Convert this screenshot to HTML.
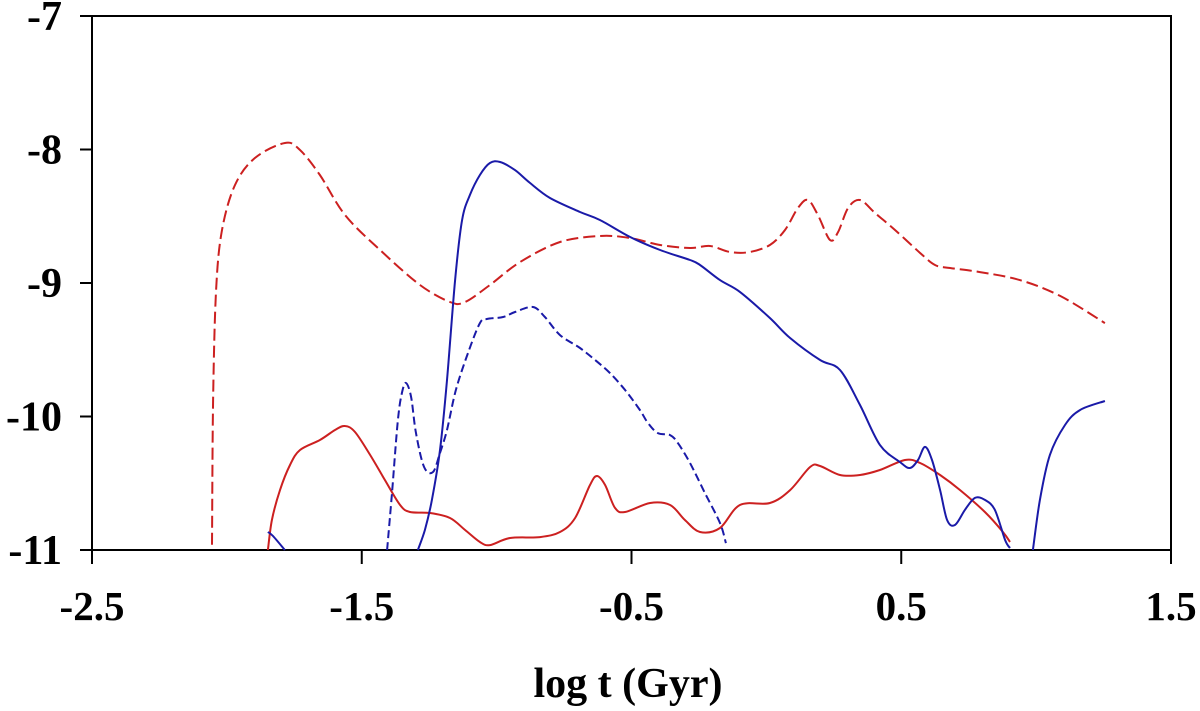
<!DOCTYPE html>
<html><head><meta charset="utf-8"><style>
html,body{margin:0;padding:0;background:#fff;}
svg text{font-family:"Liberation Serif",serif;font-weight:bold;fill:#000;}
</style></head><body>
<svg id="chart" width="1200" height="706" viewBox="0 0 1200 706" xmlns="http://www.w3.org/2000/svg">
<g id="axes"></g>
<g id="series"></g>
<text x="628" y="697" text-anchor="middle" font-size="42">log t (Gyr)</text>
</svg>
<script>
const xTicks = [-2.5, -1.5, -0.5, 0.5, 1.5];
const xTickLabels = ["-2.5", "-1.5", "-0.5", "0.5", "1.5"];
const yTicks = [-7, -8, -9, -10, -11];
const yTickLabels = ["-7", "-8", "-9", "-10", "-11"];

const redDashX = [-2.055,-2.051,-2.040,-2.018,-1.970,-1.896,-1.785,-1.729,-1.655,-1.562,-1.432,-1.284,-1.173,-1.117,-1.025,-0.913,-0.765,-0.617,-0.506,-0.394,-0.283,-0.209,-0.135,-0.061,0.013,0.069,0.117,0.154,0.191,0.236,0.266,0.303,0.347,0.403,0.477,0.570,0.625,0.681,0.792,0.940,1.089,1.255];
const redDashY = [-10.96,-9.876,-9.052,-8.603,-8.266,-8.064,-7.951,-8.004,-8.191,-8.491,-8.753,-9.015,-9.142,-9.142,-9.015,-8.843,-8.693,-8.648,-8.663,-8.715,-8.738,-8.723,-8.768,-8.768,-8.715,-8.603,-8.438,-8.378,-8.491,-8.678,-8.618,-8.438,-8.378,-8.476,-8.603,-8.775,-8.865,-8.888,-8.918,-8.978,-9.097,-9.300];

const redSolidX = [-1.848,-1.833,-1.803,-1.766,-1.729,-1.655,-1.599,-1.562,-1.525,-1.469,-1.414,-1.358,-1.321,-1.247,-1.173,-1.117,-1.062,-1.025,-0.950,-0.839,-0.765,-0.709,-0.654,-0.628,-0.598,-0.561,-0.524,-0.431,-0.357,-0.302,-0.246,-0.172,-0.098,0.013,0.088,0.162,0.199,0.273,0.347,0.421,0.514,0.570,0.644,0.718,0.810,0.877,0.903];
const redSolidY = [-11.0,-10.775,-10.551,-10.363,-10.251,-10.176,-10.101,-10.071,-10.116,-10.288,-10.476,-10.663,-10.715,-10.723,-10.760,-10.850,-10.940,-10.963,-10.910,-10.903,-10.865,-10.760,-10.513,-10.446,-10.513,-10.685,-10.715,-10.648,-10.663,-10.775,-10.865,-10.835,-10.663,-10.648,-10.551,-10.378,-10.371,-10.438,-10.438,-10.401,-10.326,-10.348,-10.438,-10.551,-10.715,-10.865,-10.940];

const blueSmallX = [-1.848,-1.829,-1.785];
const blueSmallY = [-10.865,-10.895,-11.0];

const blueSolidX = [-1.292,-1.266,-1.240,-1.210,-1.184,-1.154,-1.128,-1.099,-1.062,-1.025,-0.987,-0.932,-0.876,-0.802,-0.691,-0.617,-0.506,-0.394,-0.283,-0.246,-0.172,-0.098,0.013,0.088,0.199,0.273,0.347,0.421,0.495,0.532,0.562,0.588,0.614,0.644,0.670,0.699,0.736,0.773,0.810,0.847,0.885,0.903];
const blueSolidY = [-11,-10.850,-10.625,-10.251,-9.727,-8.978,-8.528,-8.341,-8.191,-8.101,-8.094,-8.154,-8.251,-8.363,-8.468,-8.528,-8.655,-8.753,-8.828,-8.865,-8.978,-9.067,-9.262,-9.412,-9.577,-9.652,-9.914,-10.213,-10.341,-10.386,-10.326,-10.228,-10.326,-10.551,-10.775,-10.813,-10.700,-10.610,-10.625,-10.700,-10.925,-10.985];

const blueTailX = [0.988,1.014,1.051,1.107,1.163,1.255];
const blueTailY = [-11,-10.625,-10.288,-10.064,-9.951,-9.884];

const blueDashX = [-1.406,-1.388,-1.366,-1.351,-1.336,-1.317,-1.299,-1.269,-1.236,-1.210,-1.184,-1.151,-1.106,-1.062,-1.036,-0.976,-0.932,-0.865,-0.821,-0.765,-0.691,-0.635,-0.580,-0.524,-0.469,-0.439,-0.402,-0.357,-0.328,-0.283,-0.228,-0.172,-0.150];
const blueDashY = [-11,-10.573,-10.026,-9.824,-9.749,-9.854,-10.124,-10.378,-10.416,-10.273,-10.101,-9.801,-9.524,-9.300,-9.270,-9.255,-9.217,-9.180,-9.255,-9.390,-9.487,-9.577,-9.674,-9.801,-9.951,-10.049,-10.124,-10.139,-10.199,-10.348,-10.573,-10.798,-10.948];

const L=92, R=1171, T=16, B=550;
const xMin=-2.5, xMax=1.5, yMin=-11, yMax=-7;
function sx(v){return L+(v-xMin)/(xMax-xMin)*(R-L);}
function sy(v){return B-(v-yMin)/(yMax-yMin)*(B-T);}
const NS="http://www.w3.org/2000/svg";
function mk(tag,attrs,parent){const e=document.createElementNS(NS,tag);for(const k in attrs)e.setAttribute(k,attrs[k]);parent.appendChild(e);return e;}

const axes=document.getElementById('axes');
let frame=mk('rect',{x:L,y:T,width:R-L,height:B-T,fill:'none',stroke:'#000','stroke-width':2},axes);


yTicks.forEach((v,i)=>{
  const t=mk('line',{x1:80,x2:L,y1:sy(v),y2:sy(v),stroke:'#000','stroke-width':2},axes);
  
  
  const lb=mk('text',{x:62,y:sy(v)+14,'text-anchor':'end','font-size':42},axes);
  lb.textContent=yTickLabels[i];
  
  
});
xTicks.forEach((v,i)=>{
  const t=mk('line',{x1:sx(v),x2:sx(v),y1:B,y2:B+14,stroke:'#000','stroke-width':2},axes);
  
  
  const lb=mk('text',{x:sx(v),y:620,'text-anchor':'middle','font-size':41},axes);
  lb.textContent=xTickLabels[i];
  
  
});

function smoothPath(xs,ys){
  const p=xs.map((x,i)=>[sx(x),sy(ys[i])]);
  let d='M'+p[0][0].toFixed(1)+','+p[0][1].toFixed(1);
  for(let i=0;i<p.length-1;i++){
    const p0=p[i-1]||p[i],p1=p[i],p2=p[i+1],p3=p[i+2]||p2;
    const c1=[p1[0]+(p2[0]-p0[0])/6,p1[1]+(p2[1]-p0[1])/6];
    const c2=[p2[0]-(p3[0]-p1[0])/6,p2[1]-(p3[1]-p1[1])/6];
    d+=' C'+c1[0].toFixed(1)+','+c1[1].toFixed(1)+' '+c2[0].toFixed(1)+','+c2[1].toFixed(1)+' '+p2[0].toFixed(1)+','+p2[1].toFixed(1);
  }
  return d;
}
const sg=document.getElementById('series');
function line(xs,ys,color,dash,name){
  const a={d:smoothPath(xs,ys),fill:'none',stroke:color,'stroke-width':2};
  if(dash)a['stroke-dasharray']=dash;
  const e=mk('path',a,sg);
  
  
}
line(redDashX,redDashY,'#cc2020','12 5','red-dashed-line');
line(redSolidX,redSolidY,'#cc2020',null,'red-solid-line');
line(blueSmallX,blueSmallY,'#1a1aa8',null,'blue-solid-line-start');
line(blueSolidX,blueSolidY,'#1a1aa8',null,'blue-solid-line');
line(blueTailX,blueTailY,'#1a1aa8',null,'blue-solid-line-tail');
line(blueDashX,blueDashY,'#1a1aa8','8 4','blue-dashed-line');
</script>
</body></html>
